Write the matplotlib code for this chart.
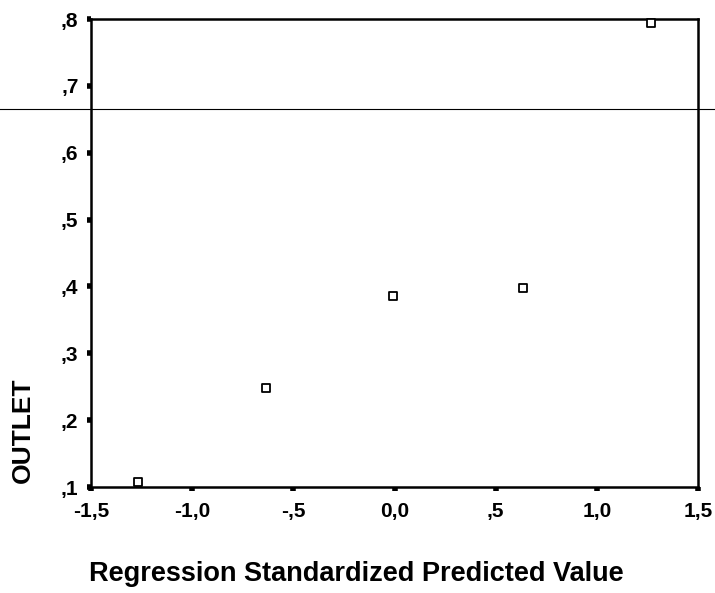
import matplotlib
matplotlib.use("Agg")
import matplotlib.pyplot as plt
from matplotlib.lines import Line2D
from matplotlib.ticker import FuncFormatter

# data
pred = [-1.268, -0.635, -0.005, 0.635, 1.268]
outlet = [0.107, 0.248, 0.385, 0.397, 0.794]

x_ticks = [-1.5, -1.0, -0.5, 0.0, 0.5, 1.0, 1.5]
y_ticks = [0.1, 0.2, 0.3, 0.4, 0.5, 0.6, 0.7, 0.8]


def koma(v, pos=None):
    # SPSS style: decimal comma, no leading zero
    s = f"{v:.1f}".replace(".", ",")
    if s.startswith("0,") and s != "0,0":
        s = s[1:]
    if s.startswith("-0,"):
        s = "-" + s[2:]
    return s


plt.rcParams["font.family"] = ["Liberation Sans", "DejaVu Sans"]
plt.rcParams["font.weight"] = "bold"

W, H = 715, 593
fig = plt.figure(figsize=(7.15, 5.93), dpi=100)
ax = fig.add_axes([91 / W, 1 - 487 / H, (698 - 91) / W, (487 - 19) / H])

ax.scatter(pred, outlet, marker="s", s=40, facecolors="white",
           edgecolors="black", linewidths=1.3, zorder=3, clip_on=False)

ax.set_xlim(-1.5, 1.5)
ax.set_ylim(0.1, 0.8)
ax.set_xticks(x_ticks)
ax.set_yticks(y_ticks)
ax.xaxis.set_major_formatter(FuncFormatter(koma))
ax.yaxis.set_major_formatter(FuncFormatter(koma))
ax.tick_params(direction="out", length=3, width=4, labelsize=15)
ax.tick_params(axis="x", pad=8)
ax.tick_params(axis="y", pad=6)

for s in ax.spines.values():
    s.set_linewidth(1.8)

# axis titles placed like in the SPSS output
fig.text(356 / W, 1 - 581 / H, "Regression Standardized Predicted Value",
         ha="center", va="baseline", fontsize=19.5)
fig.text(23 / W, 1 - 430 / H, "OUTLET", ha="center", va="center",
         rotation=90, fontsize=19)

# thin line across the scanned page
fig.add_artist(Line2D([0, 1], [1 - 109 / H, 1 - 109 / H],
                      transform=fig.transFigure, color="black", lw=0.8))

fig.savefig("out.png", dpi=100)
